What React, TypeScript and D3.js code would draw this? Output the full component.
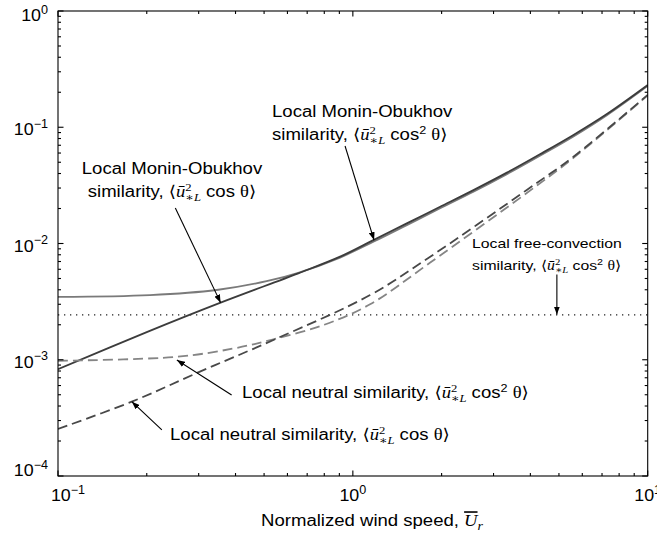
import React from 'react';
import * as d3 from 'd3';

const W = 657;
const H = 537;

// Local Monin-Obukhov similarity, <u*L^2 cos θ>
const moCos: [number, number][] = [
  [0.1, 8.3e-4], [0.2, 1.73e-3], [0.356, 3.1e-3], [0.653, 5.54e-3], [0.905, 7.7e-3],
  [1.174, 0.0107], [1.524, 0.0149], [1.977, 0.0207], [2.565, 0.0288], [3.33, 0.0407],
  [4.31, 0.0586], [5.6, 0.0859], [7.27, 0.13], [10, 0.231],
];
// Local Monin-Obukhov similarity, <u*L^2 cos^2 θ>
const moCos2: [number, number][] = [
  [0.1, 3.47e-3], [0.205, 3.6e-3], [0.345, 3.98e-3], [0.51, 4.74e-3], [0.653, 5.6e-3],
  [0.905, 7.57e-3], [1.174, 0.01035], [1.524, 0.0144], [1.977, 0.0201], [2.565, 0.0279],
  [3.33, 0.0395], [4.31, 0.0569], [5.6, 0.0834], [7.27, 0.127], [10, 0.227],
];
// Local neutral similarity, <u*L^2 cos θ>
const neutralCos: [number, number][] = [
  [0.1, 2.54e-4], [0.178, 4.36e-4], [0.303, 7.9e-4], [0.538, 1.48e-3], [1.144, 3.6e-3],
  [1.83, 7.7e-3], [3.89, 0.0289], [5.6, 0.0558], [10, 0.19],
];
// Local neutral similarity, <u*L^2 cos^2 θ>
const neutralCos2: [number, number][] = [
  [0.1, 9.8e-4], [0.253, 1.06e-3], [0.394, 1.25e-3], [0.538, 1.5e-3], [0.8, 2.0e-3],
  [1.144, 3.0e-3], [1.83, 6.86e-3], [3.89, 0.0272], [5.6, 0.0545], [10, 0.188],
];
// Local free-convection similarity (constant)
const freeConvection = 2.43e-3;

const xTickExps = [-1, 0, 1];
const yTickExps = [0, -1, -2, -3, -4];

// annotation arrows in data coordinates: [fromX, fromY, toX, toY]
const arrows: [number, number, number, number][] = [
  [0.25, 0.0202, 0.356, 0.0031],
  [0.941, 0.069, 1.18, 0.0107],
  [4.92, 0.0054, 4.92, 0.00245],
  [0.388, 4.97e-4, 0.253, 9.95e-4],
  [0.225, 2.49e-4, 0.178, 4.36e-4],
];

const SANS = '"Liberation Sans", Arial, Helvetica, sans-serif';
const SERIF = '"Liberation Serif", "DejaVu Serif", "Times New Roman", serif';

function MathPart({ cos2, fs }: { cos2: boolean; fs: number }) {
  const small = fs * 0.68;
  return (
    <>
      <tspan fontFamily={SERIF}>{'\u27E8'}</tspan>
      <tspan fontFamily={SERIF} fontStyle="italic">{'\u016B'}</tspan>
      <tspan fontFamily={SERIF} fontSize={small} dy={-fs * 0.4}>2</tspan>
      <tspan fontFamily={SERIF} fontStyle="italic" fontSize={small} dx={-small * 0.5} dy={fs * 0.62}>
        {'\u2217'}L
      </tspan>
      <tspan dy={-fs * 0.22}>{' cos'}</tspan>
      {cos2 ? (
        <>
          <tspan fontSize={small} dy={-fs * 0.4}>2</tspan>
          <tspan dy={fs * 0.4}> </tspan>
        </>
      ) : (
        <tspan> </tspan>
      )}
      <tspan fontFamily={SERIF}>{'\u03B8\u27E9'}</tspan>
    </>
  );
}

function Label({ x, y, anchor = 'start', fs = 16, sx = 1.16, children }: any) {
  return (
    <text
      transform={`translate(${x},${y}) scale(${sx},1)`}
      textAnchor={anchor}
      fontFamily={SANS}
      fontSize={fs}
      fill="#000"
    >
      {children}
    </text>
  );
}

export default function App() {
  const x = d3.scaleLog().domain([0.1, 10]).range([58, 647.7]);
  const y = d3.scaleLog().domain([1e-4, 1]).range([476, 11]);
  const [x0, x1] = x.range();
  const [y0, y1] = y.range();

  const line = d3
    .line<[number, number]>()
    .x((d) => x(d[0]))
    .y((d) => y(d[1]))
    .curve(d3.curveCatmullRom.alpha(0.5));

  const xMinor: number[] = [];
  for (let e = -1; e < 1; e++) for (let k = 2; k <= 9; k++) xMinor.push(k * Math.pow(10, e));
  const yMinor: number[] = [];
  for (let e = -4; e < 0; e++) for (let k = 2; k <= 9; k++) yMinor.push(k * Math.pow(10, e));

  const majorLen = 5.5;
  const minorLen = 3;

  const expText = (e: number) => (e < 0 ? '\u2212' + -e : String(e));

  return (
    <svg width={W} height={H} style={{ position: 'absolute', left: 0, top: 0, background: '#fff' }}>
      <defs>
        <clipPath id="plot">
          <rect x={x0} y={y1} width={x1 - x0} height={y0 - y1} />
        </clipPath>
        <marker id="arr" markerUnits="userSpaceOnUse" markerWidth={8} markerHeight={6} refX={8} refY={3} orient="auto">
          <path d="M0,0 L8,3 L0,6 z" fill="#000" />
        </marker>
      </defs>

      <g clipPath="url(#plot)" fill="none">
        <line x1={x0} x2={x1} y1={y(freeConvection)} y2={y(freeConvection)} stroke="#222" strokeWidth={1.2} strokeDasharray="1.3,4.7" />
        <path d={line(moCos2) || ''} stroke="#7a7a7a" strokeWidth={1.8} />
        <path d={line(moCos) || ''} stroke="#3c3c3c" strokeWidth={1.8} />
        <path d={line(neutralCos2) || ''} stroke="#858585" strokeWidth={1.8} strokeDasharray="10,5" />
        <path d={line(neutralCos) || ''} stroke="#484848" strokeWidth={1.8} strokeDasharray="10,5" />
      </g>

      {/* axes box */}
      <rect x={x0} y={y1} width={x1 - x0} height={y0 - y1} fill="none" stroke="#000" strokeWidth={1.1} />

      {/* ticks */}
      <g stroke="#000" strokeWidth={1.1}>
        {xTickExps.map((e) => {
          const px = x(Math.pow(10, e));
          return (
            <g key={'xM' + e}>
              <line x1={px} x2={px} y1={y0} y2={y0 - majorLen} />
              <line x1={px} x2={px} y1={y1} y2={y1 + majorLen} />
            </g>
          );
        })}
        {xMinor.map((v) => (
          <g key={'xm' + v}>
            <line x1={x(v)} x2={x(v)} y1={y0} y2={y0 - minorLen} />
            <line x1={x(v)} x2={x(v)} y1={y1} y2={y1 + minorLen} />
          </g>
        ))}
        {yTickExps.map((e) => {
          const py = y(Math.pow(10, e));
          return (
            <g key={'yM' + e}>
              <line x1={x0} x2={x0 + majorLen} y1={py} y2={py} />
              <line x1={x1} x2={x1 - majorLen} y1={py} y2={py} />
            </g>
          );
        })}
        {yMinor.map((v) => (
          <g key={'ym' + v}>
            <line x1={x0} x2={x0 + minorLen} y1={y(v)} y2={y(v)} />
            <line x1={x1} x2={x1 - minorLen} y1={y(v)} y2={y(v)} />
          </g>
        ))}
      </g>

      {/* tick labels */}
      {xTickExps.map((e) => (
        <Label key={'xl' + e} x={x(Math.pow(10, e)) + (e < 0 ? 10 : 0)} y={501} anchor="middle" fs={17} sx={1.05}>
          10
          <tspan fontSize={12} dy={-7.5}>{expText(e)}</tspan>
        </Label>
      ))}
      {yTickExps.map((e, i) => (
        <Label
          key={'yl' + e}
          x={48}
          y={y(Math.pow(10, e)) + (i === 0 ? 10 : i === yTickExps.length - 1 ? 0 : 8)}
          anchor="end"
          fs={17}
          sx={1.05}
        >
          10
          <tspan fontSize={12} dy={-7.5}>{expText(e)}</tspan>
        </Label>
      ))}

      {/* x axis label */}
      <Label x={372} y={526} anchor="middle">
        {'Normalized wind speed, '}
        <tspan fontFamily={SERIF} fontStyle="italic" style={{ textDecoration: 'overline' }}>U</tspan>
        <tspan fontFamily={SERIF} fontStyle="italic" fontSize={12} dy={4}>r</tspan>
      </Label>

      {/* arrows */}
      <g stroke="#000" strokeWidth={1.1}>
        {arrows.map((a, i) => (
          <line key={'a' + i} x1={x(a[0])} y1={y(a[1])} x2={x(a[2])} y2={y(a[3])} markerEnd="url(#arr)" />
        ))}
      </g>

      {/* annotations */}
      <Label x={172} y={174} anchor="middle">Local Monin-Obukhov</Label>
      <Label x={172} y={197} anchor="middle">
        {'similarity, '}
        <MathPart cos2={false} fs={16} />
      </Label>

      <Label x={272} y={117}>Local Monin-Obukhov</Label>
      <Label x={272} y={140}>
        {'similarity, '}
        <MathPart cos2={true} fs={16} />
      </Label>

      <Label x={472} y={248} fs={13.6}>Local free-convection</Label>
      <Label x={472} y={270} fs={13.6}>
        {'similarity, '}
        <MathPart cos2={true} fs={13.6} />
      </Label>

      <Label x={242} y={398}>
        {'Local neutral similarity, '}
        <MathPart cos2={true} fs={16} />
      </Label>
      <Label x={170} y={440}>
        {'Local neutral similarity, '}
        <MathPart cos2={false} fs={16} />
      </Label>
    </svg>
  );
}
